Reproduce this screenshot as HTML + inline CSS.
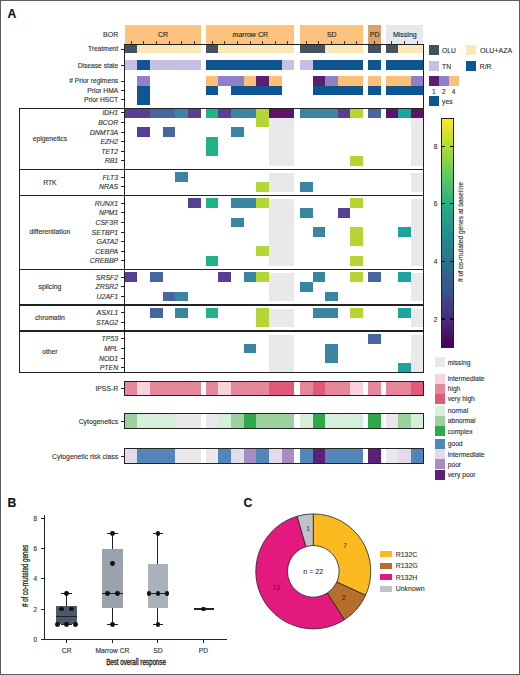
<!DOCTYPE html>
<html><head><meta charset="utf-8"><style>
html,body{margin:0;padding:0;background:#fff;}
#root{position:relative;width:520px;height:675px;overflow:hidden;background:#fff;font-family:"Liberation Sans", sans-serif;}
#root div{position:absolute;}
#root .t{white-space:nowrap;-webkit-text-stroke:0.12px currentColor;}
#frame{left:0;top:0;width:520px;height:675px;box-sizing:border-box;border:1px solid #5c5c5c;}
</style></head><body><div id="root">
<div class="t" style="top:8px;font-size:12.2px;line-height:12.2px;color:#111;font-weight:bold;left:7.6px;">A</div>
<div class="t" style="top:497px;font-size:12.2px;line-height:12.2px;color:#111;font-weight:bold;left:7.6px;">B</div>
<div class="t" style="top:497px;font-size:12.2px;line-height:12.2px;color:#111;font-weight:bold;left:243.4px;">C</div>
<div style="left:125.4px;top:24.8px;width:75.18px;height:19.1px;background:#fcc27e;"></div>
<div style="left:205.8px;top:24.8px;width:88.41px;height:19.1px;background:#fcc27e;"></div>
<div style="left:299.9px;top:24.8px;width:63.15px;height:19.1px;background:#fcc27e;"></div>
<div style="left:368px;top:24.8px;width:12.63px;height:19.1px;background:#d9a26c;"></div>
<div style="left:385.55px;top:24.8px;width:37.89px;height:19.1px;background:#e7e7ee;"></div>
<div style="left:130.62px;top:40.8px;width:1px;height:3.2px;background:#4a3518;"></div>
<div style="left:143.25px;top:40.8px;width:1px;height:3.2px;background:#4a3518;"></div>
<div style="left:155.88px;top:40.8px;width:1px;height:3.2px;background:#4a3518;"></div>
<div style="left:168.5px;top:40.8px;width:1px;height:3.2px;background:#4a3518;"></div>
<div style="left:181.13px;top:40.8px;width:1px;height:3.2px;background:#4a3518;"></div>
<div style="left:193.76px;top:40.8px;width:1px;height:3.2px;background:#4a3518;"></div>
<div style="left:211.62px;top:40.8px;width:1px;height:3.2px;background:#4a3518;"></div>
<div style="left:224.25px;top:40.8px;width:1px;height:3.2px;background:#4a3518;"></div>
<div style="left:236.88px;top:40.8px;width:1px;height:3.2px;background:#4a3518;"></div>
<div style="left:249.5px;top:40.8px;width:1px;height:3.2px;background:#4a3518;"></div>
<div style="left:262.13px;top:40.8px;width:1px;height:3.2px;background:#4a3518;"></div>
<div style="left:274.76px;top:40.8px;width:1px;height:3.2px;background:#4a3518;"></div>
<div style="left:287.39px;top:40.8px;width:1px;height:3.2px;background:#4a3518;"></div>
<div style="left:305.71px;top:40.8px;width:1px;height:3.2px;background:#4a3518;"></div>
<div style="left:318.34px;top:40.8px;width:1px;height:3.2px;background:#4a3518;"></div>
<div style="left:330.97px;top:40.8px;width:1px;height:3.2px;background:#4a3518;"></div>
<div style="left:343.6px;top:40.8px;width:1px;height:3.2px;background:#4a3518;"></div>
<div style="left:356.23px;top:40.8px;width:1px;height:3.2px;background:#4a3518;"></div>
<div style="left:373.81px;top:40.8px;width:1px;height:3.2px;background:#4a3518;"></div>
<div style="left:391.37px;top:40.8px;width:1px;height:3.2px;background:#4a3518;"></div>
<div style="left:404px;top:40.8px;width:1px;height:3.2px;background:#4a3518;"></div>
<div style="left:416.62px;top:40.8px;width:1px;height:3.2px;background:#4a3518;"></div>
<div class="t" style="top:31px;font-size:7px;line-height:7px;color:#2a2418;left:162.99px;width:0;display:flex;justify-content:center;"><span>CR</span></div>
<div class="t" style="top:31px;font-size:7px;line-height:7px;color:#2a2418;left:250.31px;width:0;display:flex;justify-content:center;"><span><i>marrow</i>&nbsp;CR</span></div>
<div class="t" style="top:31px;font-size:7px;line-height:7px;color:#2a2418;left:331.77px;width:0;display:flex;justify-content:center;"><span>SD</span></div>
<div class="t" style="top:31px;font-size:7px;line-height:7px;color:#2a2418;left:374.62px;width:0;display:flex;justify-content:center;"><span>PD</span></div>
<div class="t" style="top:31px;font-size:7px;line-height:7px;color:#2a2418;left:404.8px;width:0;display:flex;justify-content:center;"><span>Missing</span></div>
<div class="t" style="top:31px;font-size:7px;line-height:7px;color:#303030;right:401.8px;">BOR</div>
<div style="left:124.8px;top:44.6px;width:12.63px;height:8.8px;background:#44525e;"></div>
<div style="left:124.8px;top:60.3px;width:12.63px;height:9.4px;background:#c6c1e4;"></div>
<div style="left:137.43px;top:44.6px;width:12.63px;height:8.8px;background:#fbe8b8;"></div>
<div style="left:137.43px;top:60.3px;width:12.63px;height:9.4px;background:#0e5692;"></div>
<div style="left:137.43px;top:76.3px;width:12.63px;height:9.4px;background:#8f80c8;"></div>
<div style="left:137.43px;top:85.7px;width:12.63px;height:9.4px;background:#0e5692;"></div>
<div style="left:137.43px;top:95.1px;width:12.63px;height:9.7px;background:#0e5692;"></div>
<div style="left:150.06px;top:44.6px;width:12.63px;height:8.8px;background:#fbe8b8;"></div>
<div style="left:150.06px;top:60.3px;width:12.63px;height:9.4px;background:#c6c1e4;"></div>
<div style="left:162.69px;top:44.6px;width:12.63px;height:8.8px;background:#fbe8b8;"></div>
<div style="left:162.69px;top:60.3px;width:12.63px;height:9.4px;background:#c6c1e4;"></div>
<div style="left:175.32px;top:44.6px;width:12.63px;height:8.8px;background:#fbe8b8;"></div>
<div style="left:175.32px;top:60.3px;width:12.63px;height:9.4px;background:#c6c1e4;"></div>
<div style="left:187.95px;top:44.6px;width:12.63px;height:8.8px;background:#fbe8b8;"></div>
<div style="left:187.95px;top:60.3px;width:12.63px;height:9.4px;background:#c6c1e4;"></div>
<div style="left:205.8px;top:44.6px;width:12.63px;height:8.8px;background:#44525e;"></div>
<div style="left:205.8px;top:60.3px;width:12.63px;height:9.4px;background:#0e5692;"></div>
<div style="left:205.8px;top:76.3px;width:12.63px;height:9.4px;background:#fbbf76;"></div>
<div style="left:205.8px;top:85.7px;width:12.63px;height:9.4px;background:#0e5692;"></div>
<div style="left:218.43px;top:44.6px;width:12.63px;height:8.8px;background:#fbe8b8;"></div>
<div style="left:218.43px;top:60.3px;width:12.63px;height:9.4px;background:#0e5692;"></div>
<div style="left:218.43px;top:76.3px;width:12.63px;height:9.4px;background:#8f80c8;"></div>
<div style="left:231.06px;top:44.6px;width:12.63px;height:8.8px;background:#fbe8b8;"></div>
<div style="left:231.06px;top:60.3px;width:12.63px;height:9.4px;background:#0e5692;"></div>
<div style="left:231.06px;top:76.3px;width:12.63px;height:9.4px;background:#8f80c8;"></div>
<div style="left:231.06px;top:85.7px;width:12.63px;height:9.4px;background:#0e5692;"></div>
<div style="left:243.69px;top:44.6px;width:12.63px;height:8.8px;background:#fbe8b8;"></div>
<div style="left:243.69px;top:60.3px;width:12.63px;height:9.4px;background:#0e5692;"></div>
<div style="left:243.69px;top:76.3px;width:12.63px;height:9.4px;background:#fbbf76;"></div>
<div style="left:243.69px;top:85.7px;width:12.63px;height:9.4px;background:#0e5692;"></div>
<div style="left:256.32px;top:44.6px;width:12.63px;height:8.8px;background:#fbe8b8;"></div>
<div style="left:256.32px;top:60.3px;width:12.63px;height:9.4px;background:#0e5692;"></div>
<div style="left:256.32px;top:76.3px;width:12.63px;height:9.4px;background:#5a1f6e;"></div>
<div style="left:256.32px;top:85.7px;width:12.63px;height:9.4px;background:#0e5692;"></div>
<div style="left:268.95px;top:44.6px;width:12.63px;height:8.8px;background:#fbe8b8;"></div>
<div style="left:268.95px;top:60.3px;width:12.63px;height:9.4px;background:#0e5692;"></div>
<div style="left:268.95px;top:76.3px;width:12.63px;height:9.4px;background:#fbbf76;"></div>
<div style="left:268.95px;top:85.7px;width:12.63px;height:9.4px;background:#0e5692;"></div>
<div style="left:281.58px;top:44.6px;width:12.63px;height:8.8px;background:#fbe8b8;"></div>
<div style="left:281.58px;top:60.3px;width:12.63px;height:9.4px;background:#c6c1e4;"></div>
<div style="left:299.9px;top:44.6px;width:12.63px;height:8.8px;background:#44525e;"></div>
<div style="left:299.9px;top:60.3px;width:12.63px;height:9.4px;background:#c6c1e4;"></div>
<div style="left:312.53px;top:44.6px;width:12.63px;height:8.8px;background:#44525e;"></div>
<div style="left:312.53px;top:60.3px;width:12.63px;height:9.4px;background:#0e5692;"></div>
<div style="left:312.53px;top:76.3px;width:12.63px;height:9.4px;background:#5a1f6e;"></div>
<div style="left:312.53px;top:85.7px;width:12.63px;height:9.4px;background:#0e5692;"></div>
<div style="left:325.16px;top:44.6px;width:12.63px;height:8.8px;background:#fbe8b8;"></div>
<div style="left:325.16px;top:60.3px;width:12.63px;height:9.4px;background:#0e5692;"></div>
<div style="left:325.16px;top:76.3px;width:12.63px;height:9.4px;background:#8f80c8;"></div>
<div style="left:325.16px;top:85.7px;width:12.63px;height:9.4px;background:#0e5692;"></div>
<div style="left:337.79px;top:44.6px;width:12.63px;height:8.8px;background:#fbe8b8;"></div>
<div style="left:337.79px;top:60.3px;width:12.63px;height:9.4px;background:#0e5692;"></div>
<div style="left:337.79px;top:76.3px;width:12.63px;height:9.4px;background:#fbbf76;"></div>
<div style="left:337.79px;top:85.7px;width:12.63px;height:9.4px;background:#0e5692;"></div>
<div style="left:350.42px;top:44.6px;width:12.63px;height:8.8px;background:#fbe8b8;"></div>
<div style="left:350.42px;top:60.3px;width:12.63px;height:9.4px;background:#0e5692;"></div>
<div style="left:350.42px;top:76.3px;width:12.63px;height:9.4px;background:#fbbf76;"></div>
<div style="left:350.42px;top:85.7px;width:12.63px;height:9.4px;background:#0e5692;"></div>
<div style="left:368px;top:44.6px;width:12.63px;height:8.8px;background:#44525e;"></div>
<div style="left:368px;top:60.3px;width:12.63px;height:9.4px;background:#0e5692;"></div>
<div style="left:368px;top:76.3px;width:12.63px;height:9.4px;background:#fbbf76;"></div>
<div style="left:368px;top:85.7px;width:12.63px;height:9.4px;background:#0e5692;"></div>
<div style="left:385.55px;top:44.6px;width:12.63px;height:8.8px;background:#44525e;"></div>
<div style="left:385.55px;top:60.3px;width:12.63px;height:9.4px;background:#0e5692;"></div>
<div style="left:385.55px;top:76.3px;width:12.63px;height:9.4px;background:#fbbf76;"></div>
<div style="left:385.55px;top:85.7px;width:12.63px;height:9.4px;background:#0e5692;"></div>
<div style="left:398.18px;top:44.6px;width:12.63px;height:8.8px;background:#fbe8b8;"></div>
<div style="left:398.18px;top:60.3px;width:12.63px;height:9.4px;background:#0e5692;"></div>
<div style="left:398.18px;top:76.3px;width:12.63px;height:9.4px;background:#fbbf76;"></div>
<div style="left:398.18px;top:85.7px;width:12.63px;height:9.4px;background:#0e5692;"></div>
<div style="left:410.81px;top:44.6px;width:12.63px;height:8.8px;background:#fbe8b8;"></div>
<div style="left:410.81px;top:60.3px;width:12.63px;height:9.4px;background:#0e5692;"></div>
<div style="left:410.81px;top:76.3px;width:12.63px;height:9.4px;background:#8f80c8;"></div>
<div style="left:410.81px;top:85.7px;width:12.63px;height:9.4px;background:#0e5692;"></div>
<div class="t" style="top:46px;font-size:6.7px;line-height:6.7px;color:#303030;right:401.8px;">Treatment</div>
<div style="left:120.8px;top:48.5px;width:3.7px;height:1px;background:#222;"></div>
<div class="t" style="top:63px;font-size:6.7px;line-height:6.7px;color:#303030;right:401.8px;">Disease state</div>
<div style="left:120.8px;top:64.5px;width:3.7px;height:1px;background:#222;"></div>
<div class="t" style="top:78px;font-size:6.7px;line-height:6.7px;color:#303030;right:401.8px;"># Prior regimens</div>
<div style="left:120.8px;top:80.5px;width:3.7px;height:1px;background:#222;"></div>
<div class="t" style="top:88px;font-size:6.7px;line-height:6.7px;color:#303030;right:401.8px;">Prior HMA</div>
<div style="left:120.8px;top:89.9px;width:3.7px;height:1px;background:#222;"></div>
<div class="t" style="top:97px;font-size:6.7px;line-height:6.7px;color:#303030;right:401.8px;">Prior HSCT</div>
<div style="left:120.8px;top:99.3px;width:3.7px;height:1px;background:#222;"></div>
<div style="left:268.95px;top:118.1px;width:12.63px;height:47.5px;background:#e9e9eb;"></div>
<div style="left:268.95px;top:172.92px;width:12.63px;height:18.7px;background:#e9e9eb;"></div>
<div style="left:268.95px;top:198.94px;width:12.63px;height:66.7px;background:#e9e9eb;"></div>
<div style="left:268.95px;top:272.96px;width:12.63px;height:28.3px;background:#e9e9eb;"></div>
<div style="left:268.95px;top:308.58px;width:12.63px;height:18.7px;background:#e9e9eb;"></div>
<div style="left:268.95px;top:334.6px;width:12.63px;height:37.9px;background:#e9e9eb;"></div>
<div style="left:281.58px;top:118.1px;width:12.63px;height:47.5px;background:#e9e9eb;"></div>
<div style="left:281.58px;top:172.92px;width:12.63px;height:18.7px;background:#e9e9eb;"></div>
<div style="left:281.58px;top:198.94px;width:12.63px;height:66.7px;background:#e9e9eb;"></div>
<div style="left:281.58px;top:272.96px;width:12.63px;height:28.3px;background:#e9e9eb;"></div>
<div style="left:281.58px;top:308.58px;width:12.63px;height:18.7px;background:#e9e9eb;"></div>
<div style="left:281.58px;top:334.6px;width:12.63px;height:37.9px;background:#e9e9eb;"></div>
<div style="left:410.81px;top:118.1px;width:12.63px;height:47.5px;background:#e9e9eb;"></div>
<div style="left:410.81px;top:172.92px;width:12.63px;height:18.7px;background:#e9e9eb;"></div>
<div style="left:410.81px;top:198.94px;width:12.63px;height:66.7px;background:#e9e9eb;"></div>
<div style="left:410.81px;top:272.96px;width:12.63px;height:28.3px;background:#e9e9eb;"></div>
<div style="left:410.81px;top:308.58px;width:12.63px;height:18.7px;background:#e9e9eb;"></div>
<div style="left:410.81px;top:334.6px;width:12.63px;height:37.9px;background:#e9e9eb;"></div>
<div style="left:124.8px;top:108px;width:12.63px;height:9.6px;background:#573f93;"></div>
<div style="left:137.43px;top:108px;width:12.63px;height:9.6px;background:#573f93;"></div>
<div style="left:150.06px;top:108px;width:12.63px;height:9.6px;background:#4766a0;"></div>
<div style="left:162.69px;top:108px;width:12.63px;height:9.6px;background:#4766a0;"></div>
<div style="left:175.32px;top:108px;width:12.63px;height:9.6px;background:#3a86a0;"></div>
<div style="left:187.95px;top:108px;width:12.63px;height:9.6px;background:#573f93;"></div>
<div style="left:205.8px;top:108px;width:12.63px;height:9.6px;background:#22b288;"></div>
<div style="left:218.43px;top:108px;width:12.63px;height:9.6px;background:#573f93;"></div>
<div style="left:231.06px;top:108px;width:12.63px;height:9.6px;background:#3a86a0;"></div>
<div style="left:243.69px;top:108px;width:12.63px;height:9.6px;background:#3a86a0;"></div>
<div style="left:256.32px;top:108px;width:12.63px;height:9.6px;background:#b5d536;"></div>
<div style="left:268.95px;top:108px;width:12.63px;height:9.6px;background:#5c1566;"></div>
<div style="left:281.58px;top:108px;width:12.63px;height:9.6px;background:#5c1566;"></div>
<div style="left:299.9px;top:108px;width:12.63px;height:9.6px;background:#3a86a0;"></div>
<div style="left:312.53px;top:108px;width:12.63px;height:9.6px;background:#3a86a0;"></div>
<div style="left:325.16px;top:108px;width:12.63px;height:9.6px;background:#3a86a0;"></div>
<div style="left:337.79px;top:108px;width:12.63px;height:9.6px;background:#573f93;"></div>
<div style="left:350.42px;top:108px;width:12.63px;height:9.6px;background:#b5d536;"></div>
<div style="left:368px;top:108px;width:12.63px;height:9.6px;background:#4766a0;"></div>
<div style="left:385.55px;top:108px;width:12.63px;height:9.6px;background:#5c1566;"></div>
<div style="left:398.18px;top:108px;width:12.63px;height:9.6px;background:#1ca59c;"></div>
<div style="left:410.81px;top:108px;width:12.63px;height:9.6px;background:#5c1566;"></div>
<div style="left:256.32px;top:117.6px;width:12.63px;height:9.6px;background:#b5d536;"></div>
<div style="left:137.43px;top:127.2px;width:12.63px;height:9.6px;background:#573f93;"></div>
<div style="left:162.69px;top:127.2px;width:12.63px;height:9.6px;background:#4766a0;"></div>
<div style="left:231.06px;top:127.2px;width:12.63px;height:9.6px;background:#3a86a0;"></div>
<div style="left:205.8px;top:136.8px;width:12.63px;height:9.6px;background:#22b288;"></div>
<div style="left:205.8px;top:146.4px;width:12.63px;height:9.6px;background:#22b288;"></div>
<div style="left:350.42px;top:156px;width:12.63px;height:9.6px;background:#b5d536;"></div>
<div style="left:175.32px;top:172.42px;width:12.63px;height:9.6px;background:#3a86a0;"></div>
<div style="left:256.32px;top:182.02px;width:12.63px;height:9.6px;background:#b5d536;"></div>
<div style="left:299.9px;top:182.02px;width:12.63px;height:9.6px;background:#3a86a0;"></div>
<div style="left:187.95px;top:198.44px;width:12.63px;height:9.6px;background:#573f93;"></div>
<div style="left:205.8px;top:198.44px;width:12.63px;height:9.6px;background:#22b288;"></div>
<div style="left:231.06px;top:198.44px;width:12.63px;height:9.6px;background:#3a86a0;"></div>
<div style="left:243.69px;top:198.44px;width:12.63px;height:9.6px;background:#3a86a0;"></div>
<div style="left:256.32px;top:198.44px;width:12.63px;height:9.6px;background:#b5d536;"></div>
<div style="left:350.42px;top:198.44px;width:12.63px;height:9.6px;background:#b5d536;"></div>
<div style="left:299.9px;top:208.04px;width:12.63px;height:9.6px;background:#3a86a0;"></div>
<div style="left:337.79px;top:208.04px;width:12.63px;height:9.6px;background:#573f93;"></div>
<div style="left:231.06px;top:217.64px;width:12.63px;height:9.6px;background:#3a86a0;"></div>
<div style="left:312.53px;top:227.24px;width:12.63px;height:9.6px;background:#3a86a0;"></div>
<div style="left:350.42px;top:227.24px;width:12.63px;height:9.6px;background:#b5d536;"></div>
<div style="left:398.18px;top:227.24px;width:12.63px;height:9.6px;background:#1ca59c;"></div>
<div style="left:350.42px;top:236.84px;width:12.63px;height:9.6px;background:#b5d536;"></div>
<div style="left:256.32px;top:246.44px;width:12.63px;height:9.6px;background:#b5d536;"></div>
<div style="left:205.8px;top:256.04px;width:12.63px;height:9.6px;background:#22b288;"></div>
<div style="left:350.42px;top:256.04px;width:12.63px;height:9.6px;background:#b5d536;"></div>
<div style="left:124.8px;top:272.46px;width:12.63px;height:9.6px;background:#573f93;"></div>
<div style="left:150.06px;top:272.46px;width:12.63px;height:9.6px;background:#4766a0;"></div>
<div style="left:218.43px;top:272.46px;width:12.63px;height:9.6px;background:#573f93;"></div>
<div style="left:243.69px;top:272.46px;width:12.63px;height:9.6px;background:#3a86a0;"></div>
<div style="left:256.32px;top:272.46px;width:12.63px;height:9.6px;background:#b5d536;"></div>
<div style="left:312.53px;top:272.46px;width:12.63px;height:9.6px;background:#3a86a0;"></div>
<div style="left:350.42px;top:272.46px;width:12.63px;height:9.6px;background:#b5d536;"></div>
<div style="left:368px;top:272.46px;width:12.63px;height:9.6px;background:#4766a0;"></div>
<div style="left:398.18px;top:272.46px;width:12.63px;height:9.6px;background:#1ca59c;"></div>
<div style="left:299.9px;top:282.06px;width:12.63px;height:9.6px;background:#3a86a0;"></div>
<div style="left:162.69px;top:291.66px;width:12.63px;height:9.6px;background:#4766a0;"></div>
<div style="left:175.32px;top:291.66px;width:12.63px;height:9.6px;background:#3a86a0;"></div>
<div style="left:325.16px;top:291.66px;width:12.63px;height:9.6px;background:#3a86a0;"></div>
<div style="left:150.06px;top:308.08px;width:12.63px;height:9.6px;background:#4766a0;"></div>
<div style="left:175.32px;top:308.08px;width:12.63px;height:9.6px;background:#3a86a0;"></div>
<div style="left:205.8px;top:308.08px;width:12.63px;height:9.6px;background:#22b288;"></div>
<div style="left:256.32px;top:308.08px;width:12.63px;height:9.6px;background:#b5d536;"></div>
<div style="left:312.53px;top:308.08px;width:12.63px;height:9.6px;background:#3a86a0;"></div>
<div style="left:325.16px;top:308.08px;width:12.63px;height:9.6px;background:#3a86a0;"></div>
<div style="left:350.42px;top:308.08px;width:12.63px;height:9.6px;background:#b5d536;"></div>
<div style="left:398.18px;top:308.08px;width:12.63px;height:9.6px;background:#1ca59c;"></div>
<div style="left:256.32px;top:317.68px;width:12.63px;height:9.6px;background:#b5d536;"></div>
<div style="left:368px;top:334.1px;width:12.63px;height:9.6px;background:#4766a0;"></div>
<div style="left:243.69px;top:343.7px;width:12.63px;height:9.6px;background:#3a86a0;"></div>
<div style="left:325.16px;top:343.7px;width:12.63px;height:9.6px;background:#3a86a0;"></div>
<div style="left:325.16px;top:353.3px;width:12.63px;height:9.6px;background:#3a86a0;"></div>
<div style="left:398.18px;top:362.9px;width:12.63px;height:9.6px;background:#1ca59c;"></div>
<div class="t" style="top:110px;font-size:6.95px;line-height:6.95px;color:#303030;font-style:italic;right:401.8px;">IDH1</div>
<div style="left:120.8px;top:112.3px;width:3.7px;height:1px;background:#222;"></div>
<div class="t" style="top:120px;font-size:6.95px;line-height:6.95px;color:#303030;font-style:italic;right:401.8px;">BCOR</div>
<div style="left:120.8px;top:121.9px;width:3.7px;height:1px;background:#222;"></div>
<div class="t" style="top:130px;font-size:6.95px;line-height:6.95px;color:#303030;font-style:italic;right:401.8px;">DNMT3A</div>
<div style="left:120.8px;top:131.5px;width:3.7px;height:1px;background:#222;"></div>
<div class="t" style="top:139px;font-size:6.95px;line-height:6.95px;color:#303030;font-style:italic;right:401.8px;">EZH2</div>
<div style="left:120.8px;top:141.1px;width:3.7px;height:1px;background:#222;"></div>
<div class="t" style="top:149px;font-size:6.95px;line-height:6.95px;color:#303030;font-style:italic;right:401.8px;">TET2</div>
<div style="left:120.8px;top:150.7px;width:3.7px;height:1px;background:#222;"></div>
<div class="t" style="top:158px;font-size:6.95px;line-height:6.95px;color:#303030;font-style:italic;right:401.8px;">RB1</div>
<div style="left:120.8px;top:160.3px;width:3.7px;height:1px;background:#222;"></div>
<div class="t" style="top:175px;font-size:6.95px;line-height:6.95px;color:#303030;font-style:italic;right:401.8px;">FLT3</div>
<div style="left:120.8px;top:176.72px;width:3.7px;height:1px;background:#222;"></div>
<div class="t" style="top:184px;font-size:6.95px;line-height:6.95px;color:#303030;font-style:italic;right:401.8px;">NRAS</div>
<div style="left:120.8px;top:186.32px;width:3.7px;height:1px;background:#222;"></div>
<div class="t" style="top:201px;font-size:6.95px;line-height:6.95px;color:#303030;font-style:italic;right:401.8px;">RUNX1</div>
<div style="left:120.8px;top:202.74px;width:3.7px;height:1px;background:#222;"></div>
<div class="t" style="top:210px;font-size:6.95px;line-height:6.95px;color:#303030;font-style:italic;right:401.8px;">NPM1</div>
<div style="left:120.8px;top:212.34px;width:3.7px;height:1px;background:#222;"></div>
<div class="t" style="top:220px;font-size:6.95px;line-height:6.95px;color:#303030;font-style:italic;right:401.8px;">CSF3R</div>
<div style="left:120.8px;top:221.94px;width:3.7px;height:1px;background:#222;"></div>
<div class="t" style="top:230px;font-size:6.95px;line-height:6.95px;color:#303030;font-style:italic;right:401.8px;">SETBP1</div>
<div style="left:120.8px;top:231.54px;width:3.7px;height:1px;background:#222;"></div>
<div class="t" style="top:239px;font-size:6.95px;line-height:6.95px;color:#303030;font-style:italic;right:401.8px;">GATA2</div>
<div style="left:120.8px;top:241.14px;width:3.7px;height:1px;background:#222;"></div>
<div class="t" style="top:249px;font-size:6.95px;line-height:6.95px;color:#303030;font-style:italic;right:401.8px;">CEBPA</div>
<div style="left:120.8px;top:250.74px;width:3.7px;height:1px;background:#222;"></div>
<div class="t" style="top:258px;font-size:6.95px;line-height:6.95px;color:#303030;font-style:italic;right:401.8px;">CREBBP</div>
<div style="left:120.8px;top:260.34px;width:3.7px;height:1px;background:#222;"></div>
<div class="t" style="top:275px;font-size:6.95px;line-height:6.95px;color:#303030;font-style:italic;right:401.8px;">SRSF2</div>
<div style="left:120.8px;top:276.76px;width:3.7px;height:1px;background:#222;"></div>
<div class="t" style="top:284px;font-size:6.95px;line-height:6.95px;color:#303030;font-style:italic;right:401.8px;">ZRSR2</div>
<div style="left:120.8px;top:286.36px;width:3.7px;height:1px;background:#222;"></div>
<div class="t" style="top:294px;font-size:6.95px;line-height:6.95px;color:#303030;font-style:italic;right:401.8px;">U2AF1</div>
<div style="left:120.8px;top:295.96px;width:3.7px;height:1px;background:#222;"></div>
<div class="t" style="top:310px;font-size:6.95px;line-height:6.95px;color:#303030;font-style:italic;right:401.8px;">ASXL1</div>
<div style="left:120.8px;top:312.38px;width:3.7px;height:1px;background:#222;"></div>
<div class="t" style="top:320px;font-size:6.95px;line-height:6.95px;color:#303030;font-style:italic;right:401.8px;">STAG2</div>
<div style="left:120.8px;top:321.98px;width:3.7px;height:1px;background:#222;"></div>
<div class="t" style="top:336px;font-size:6.95px;line-height:6.95px;color:#303030;font-style:italic;right:401.8px;">TP53</div>
<div style="left:120.8px;top:338.4px;width:3.7px;height:1px;background:#222;"></div>
<div class="t" style="top:346px;font-size:6.95px;line-height:6.95px;color:#303030;font-style:italic;right:401.8px;">MPL</div>
<div style="left:120.8px;top:348px;width:3.7px;height:1px;background:#222;"></div>
<div class="t" style="top:356px;font-size:6.95px;line-height:6.95px;color:#303030;font-style:italic;right:401.8px;">NOD1</div>
<div style="left:120.8px;top:357.6px;width:3.7px;height:1px;background:#222;"></div>
<div class="t" style="top:365px;font-size:6.95px;line-height:6.95px;color:#303030;font-style:italic;right:401.8px;">PTEN</div>
<div style="left:120.8px;top:367.2px;width:3.7px;height:1px;background:#222;"></div>
<div class="t" style="top:136px;font-size:6.8px;line-height:6.8px;color:#303030;left:49.9px;width:0;display:flex;justify-content:center;">epigenetics</div>
<div class="t" style="top:180px;font-size:6.8px;line-height:6.8px;color:#303030;left:49.9px;width:0;display:flex;justify-content:center;">RTK</div>
<div class="t" style="top:229px;font-size:6.8px;line-height:6.8px;color:#303030;left:49.9px;width:0;display:flex;justify-content:center;">differentiation</div>
<div class="t" style="top:284px;font-size:6.8px;line-height:6.8px;color:#303030;left:49.9px;width:0;display:flex;justify-content:center;">splicing</div>
<div class="t" style="top:315px;font-size:6.8px;line-height:6.8px;color:#303030;left:49.9px;width:0;display:flex;justify-content:center;">chromatin</div>
<div class="t" style="top:349px;font-size:6.8px;line-height:6.8px;color:#303030;left:49.9px;width:0;display:flex;justify-content:center;">other</div>
<div style="left:124.2px;top:43.8px;width:299.84px;height:1.2px;background:#222;"></div>
<div style="left:124.2px;top:43.8px;width:1.2px;height:65.2px;background:#222;"></div>
<div style="left:423.04px;top:43.8px;width:1.2px;height:65.2px;background:#222;"></div>
<div style="left:19.1px;top:107.8px;width:405.14px;height:1.2px;background:#222;"></div>
<div style="left:19.1px;top:107.8px;width:1.2px;height:265.1px;background:#222;"></div>
<div style="left:124.2px;top:107.8px;width:1.2px;height:265.1px;background:#222;"></div>
<div style="left:423.04px;top:107.8px;width:1.2px;height:265.1px;background:#222;"></div>
<div style="left:19.1px;top:168.76px;width:405.14px;height:1.2px;background:#222;"></div>
<div style="left:19.1px;top:194.78px;width:405.14px;height:1.2px;background:#222;"></div>
<div style="left:19.1px;top:268.8px;width:405.14px;height:1.2px;background:#222;"></div>
<div style="left:19.1px;top:304.42px;width:405.14px;height:1.2px;background:#222;"></div>
<div style="left:19.1px;top:330.44px;width:405.14px;height:1.2px;background:#222;"></div>
<div style="left:19.1px;top:371.7px;width:405.14px;height:1.2px;background:#222;"></div>
<div style="left:124.8px;top:381.3px;width:12.63px;height:15.2px;background:#e4889a;"></div>
<div style="left:137.43px;top:381.3px;width:12.63px;height:15.2px;background:#f8d3da;"></div>
<div style="left:150.06px;top:381.3px;width:12.63px;height:15.2px;background:#e4889a;"></div>
<div style="left:162.69px;top:381.3px;width:12.63px;height:15.2px;background:#e4889a;"></div>
<div style="left:175.32px;top:381.3px;width:12.63px;height:15.2px;background:#e4889a;"></div>
<div style="left:187.95px;top:381.3px;width:12.63px;height:15.2px;background:#e4889a;"></div>
<div style="left:205.8px;top:381.3px;width:12.63px;height:15.2px;background:#e4889a;"></div>
<div style="left:218.43px;top:381.3px;width:12.63px;height:15.2px;background:#f8d3da;"></div>
<div style="left:231.06px;top:381.3px;width:12.63px;height:15.2px;background:#e4889a;"></div>
<div style="left:243.69px;top:381.3px;width:12.63px;height:15.2px;background:#e4889a;"></div>
<div style="left:256.32px;top:381.3px;width:12.63px;height:15.2px;background:#e4889a;"></div>
<div style="left:268.95px;top:381.3px;width:12.63px;height:15.2px;background:#e0587a;"></div>
<div style="left:281.58px;top:381.3px;width:12.63px;height:15.2px;background:#e0587a;"></div>
<div style="left:299.9px;top:381.3px;width:12.63px;height:15.2px;background:#e4889a;"></div>
<div style="left:312.53px;top:381.3px;width:12.63px;height:15.2px;background:#e0587a;"></div>
<div style="left:325.16px;top:381.3px;width:12.63px;height:15.2px;background:#e4889a;"></div>
<div style="left:337.79px;top:381.3px;width:12.63px;height:15.2px;background:#e4889a;"></div>
<div style="left:350.42px;top:381.3px;width:12.63px;height:15.2px;background:#f8d3da;"></div>
<div style="left:368px;top:381.3px;width:12.63px;height:15.2px;background:#e4889a;"></div>
<div style="left:385.55px;top:381.3px;width:12.63px;height:15.2px;background:#e4889a;"></div>
<div style="left:398.18px;top:381.3px;width:12.63px;height:15.2px;background:#e4889a;"></div>
<div style="left:410.81px;top:381.3px;width:12.63px;height:15.2px;background:#e0587a;"></div>
<div style="left:124.2px;top:381.3px;width:300.04px;height:15.2px;border:1.2px solid #222;box-sizing:border-box"></div>
<div class="t" style="top:386px;font-size:6.85px;line-height:6.85px;color:#303030;right:401.8px;">IPSS-R</div>
<div style="left:120.8px;top:388.4px;width:3.7px;height:1px;background:#222;"></div>
<div style="left:124.8px;top:413.4px;width:12.63px;height:15.8px;background:#9dd09f;"></div>
<div style="left:137.43px;top:413.4px;width:12.63px;height:15.8px;background:#d6efda;"></div>
<div style="left:150.06px;top:413.4px;width:12.63px;height:15.8px;background:#d6efda;"></div>
<div style="left:162.69px;top:413.4px;width:12.63px;height:15.8px;background:#d6efda;"></div>
<div style="left:175.32px;top:413.4px;width:12.63px;height:15.8px;background:#e9e9eb;"></div>
<div style="left:187.95px;top:413.4px;width:12.63px;height:15.8px;background:#e9e9eb;"></div>
<div style="left:205.8px;top:413.4px;width:12.63px;height:15.8px;background:#e9e9eb;"></div>
<div style="left:218.43px;top:413.4px;width:12.63px;height:15.8px;background:#d6efda;"></div>
<div style="left:231.06px;top:413.4px;width:12.63px;height:15.8px;background:#9dd09f;"></div>
<div style="left:243.69px;top:413.4px;width:12.63px;height:15.8px;background:#2fa84a;"></div>
<div style="left:256.32px;top:413.4px;width:12.63px;height:15.8px;background:#9dd09f;"></div>
<div style="left:268.95px;top:413.4px;width:12.63px;height:15.8px;background:#9dd09f;"></div>
<div style="left:281.58px;top:413.4px;width:12.63px;height:15.8px;background:#9dd09f;"></div>
<div style="left:299.9px;top:413.4px;width:12.63px;height:15.8px;background:#d6efda;"></div>
<div style="left:312.53px;top:413.4px;width:12.63px;height:15.8px;background:#2fa84a;"></div>
<div style="left:325.16px;top:413.4px;width:12.63px;height:15.8px;background:#d6efda;"></div>
<div style="left:337.79px;top:413.4px;width:12.63px;height:15.8px;background:#d6efda;"></div>
<div style="left:350.42px;top:413.4px;width:12.63px;height:15.8px;background:#d6efda;"></div>
<div style="left:368px;top:413.4px;width:12.63px;height:15.8px;background:#2fa84a;"></div>
<div style="left:385.55px;top:413.4px;width:12.63px;height:15.8px;background:#e9e9eb;"></div>
<div style="left:398.18px;top:413.4px;width:12.63px;height:15.8px;background:#9dd09f;"></div>
<div style="left:410.81px;top:413.4px;width:12.63px;height:15.8px;background:#d6efda;"></div>
<div style="left:124.2px;top:413.4px;width:300.04px;height:15.8px;border:1.2px solid #222;box-sizing:border-box"></div>
<div class="t" style="top:419px;font-size:6.85px;line-height:6.85px;color:#303030;right:401.8px;">Cytogenetics</div>
<div style="left:120.8px;top:420.8px;width:3.7px;height:1px;background:#222;"></div>
<div style="left:124.8px;top:448.3px;width:12.63px;height:15.7px;background:#e3dbeb;"></div>
<div style="left:137.43px;top:448.3px;width:12.63px;height:15.7px;background:#5285b8;"></div>
<div style="left:150.06px;top:448.3px;width:12.63px;height:15.7px;background:#5285b8;"></div>
<div style="left:162.69px;top:448.3px;width:12.63px;height:15.7px;background:#5285b8;"></div>
<div style="left:175.32px;top:448.3px;width:12.63px;height:15.7px;background:#e9e9eb;"></div>
<div style="left:187.95px;top:448.3px;width:12.63px;height:15.7px;background:#e9e9eb;"></div>
<div style="left:205.8px;top:448.3px;width:12.63px;height:15.7px;background:#e9e9eb;"></div>
<div style="left:218.43px;top:448.3px;width:12.63px;height:15.7px;background:#5285b8;"></div>
<div style="left:231.06px;top:448.3px;width:12.63px;height:15.7px;background:#e3dbeb;"></div>
<div style="left:243.69px;top:448.3px;width:12.63px;height:15.7px;background:#a98cc2;"></div>
<div style="left:256.32px;top:448.3px;width:12.63px;height:15.7px;background:#5285b8;"></div>
<div style="left:268.95px;top:448.3px;width:12.63px;height:15.7px;background:#e3dbeb;"></div>
<div style="left:281.58px;top:448.3px;width:12.63px;height:15.7px;background:#a98cc2;"></div>
<div style="left:299.9px;top:448.3px;width:12.63px;height:15.7px;background:#5285b8;"></div>
<div style="left:312.53px;top:448.3px;width:12.63px;height:15.7px;background:#5b1f78;"></div>
<div style="left:325.16px;top:448.3px;width:12.63px;height:15.7px;background:#5285b8;"></div>
<div style="left:337.79px;top:448.3px;width:12.63px;height:15.7px;background:#5285b8;"></div>
<div style="left:350.42px;top:448.3px;width:12.63px;height:15.7px;background:#5285b8;"></div>
<div style="left:368px;top:448.3px;width:12.63px;height:15.7px;background:#5b1f78;"></div>
<div style="left:385.55px;top:448.3px;width:12.63px;height:15.7px;background:#e9e9eb;"></div>
<div style="left:398.18px;top:448.3px;width:12.63px;height:15.7px;background:#e3dbeb;"></div>
<div style="left:410.81px;top:448.3px;width:12.63px;height:15.7px;background:#5285b8;"></div>
<div style="left:124.2px;top:448.3px;width:300.04px;height:15.7px;border:1.2px solid #222;box-sizing:border-box"></div>
<div class="t" style="top:454px;font-size:6.85px;line-height:6.85px;color:#303030;right:401.8px;">Cytogenetic risk class</div>
<div style="left:120.8px;top:455.65px;width:3.7px;height:1px;background:#222;"></div>
<div style="left:428.9px;top:45.2px;width:10.1px;height:9.5px;background:#44525e;"></div>
<div class="t" style="top:48px;font-size:6.7px;line-height:6.7px;color:#303030;left:442.1px;">OLU</div>
<div style="left:466.4px;top:45.2px;width:10.1px;height:9.5px;background:#fbe8b8;"></div>
<div class="t" style="top:47px;font-size:7px;line-height:7px;color:#303030;left:480px;">OLU+AZA</div>
<div style="left:428.9px;top:61.3px;width:10.1px;height:9.5px;background:#c6c1e4;"></div>
<div class="t" style="top:64px;font-size:6.7px;line-height:6.7px;color:#303030;left:442.1px;">TN</div>
<div style="left:466.4px;top:61.3px;width:10.1px;height:9.5px;background:#0e5692;"></div>
<div class="t" style="top:64px;font-size:6.7px;line-height:6.7px;color:#303030;left:479.8px;">R/R</div>
<div style="left:428.9px;top:76.3px;width:9.9px;height:9.4px;background:#5a1f6e;"></div>
<div style="left:438.8px;top:76.3px;width:9.9px;height:9.4px;background:#8f80c8;"></div>
<div style="left:448.7px;top:76.3px;width:9.9px;height:9.4px;background:#fbbf76;"></div>
<div class="t" style="top:89px;font-size:6.5px;line-height:6.5px;color:#303030;left:433.9px;width:0;display:flex;justify-content:center;">1</div>
<div class="t" style="top:89px;font-size:6.5px;line-height:6.5px;color:#303030;left:443.8px;width:0;display:flex;justify-content:center;">2</div>
<div class="t" style="top:89px;font-size:6.5px;line-height:6.5px;color:#303030;left:453.6px;width:0;display:flex;justify-content:center;">4</div>
<div style="left:428.9px;top:96.4px;width:10.1px;height:9.4px;background:#0e5692;"></div>
<div class="t" style="top:99px;font-size:6.7px;line-height:6.7px;color:#303030;left:442.1px;">yes</div>
<div style="left:440.7px;top:117.6px;width:13.2px;height:230.2px;box-sizing:border-box;border:0.8px solid #222;background:linear-gradient(to bottom,#fde725 0%,#addc30 12.5%,#5ec962 25%,#28ae80 37.5%,#21918c 50%,#2c728e 62.5%,#3b528b 75%,#472d7b 87.5%,#440154 100%)"></div>
<div style="left:440.7px;top:318.48px;width:3.9px;height:1.1px;background:#111;"></div>
<div style="left:449.9px;top:318.48px;width:4px;height:1.1px;background:#111;"></div>
<div class="t" style="top:317px;font-size:6.5px;line-height:6.5px;color:#303030;left:435.6px;width:0;display:flex;justify-content:center;">2</div>
<div style="left:440.7px;top:260.93px;width:3.9px;height:1.1px;background:#111;"></div>
<div style="left:449.9px;top:260.93px;width:4px;height:1.1px;background:#111;"></div>
<div class="t" style="top:259px;font-size:6.5px;line-height:6.5px;color:#303030;left:435.6px;width:0;display:flex;justify-content:center;">4</div>
<div style="left:440.7px;top:203.38px;width:3.9px;height:1.1px;background:#111;"></div>
<div style="left:449.9px;top:203.38px;width:4px;height:1.1px;background:#111;"></div>
<div class="t" style="top:201px;font-size:6.5px;line-height:6.5px;color:#303030;left:435.6px;width:0;display:flex;justify-content:center;">6</div>
<div style="left:440.7px;top:145.83px;width:3.9px;height:1.1px;background:#111;"></div>
<div style="left:449.9px;top:145.83px;width:4px;height:1.1px;background:#111;"></div>
<div class="t" style="top:144px;font-size:6.5px;line-height:6.5px;color:#303030;left:435.6px;width:0;display:flex;justify-content:center;">8</div>
<div class="t" style="left:461.2px;top:231.9px;width:0;height:0;"><div style="position:absolute;left:0;top:0;transform:translate(-50%,-50%) rotate(-90deg);white-space:nowrap;font-size:6.65px;line-height:6.65px;color:#303030"># of co-mutated genes at baseline</div></div>
<div style="left:434.5px;top:357.2px;width:10.2px;height:9.8px;background:#e9e9eb;"></div>
<div class="t" style="top:360px;font-size:6.7px;line-height:6.7px;color:#303030;left:447.7px;">missing</div>
<div style="left:434.5px;top:373.6px;width:10.2px;height:10.1px;background:#f8d3da;"></div>
<div class="t" style="top:376px;font-size:6.7px;line-height:6.7px;color:#303030;left:447.7px;">intermediate</div>
<div style="left:434.5px;top:383.7px;width:10.2px;height:10.1px;background:#e4889a;"></div>
<div class="t" style="top:386px;font-size:6.7px;line-height:6.7px;color:#303030;left:447.7px;">high</div>
<div style="left:434.5px;top:393.8px;width:10.2px;height:10.1px;background:#e0587a;"></div>
<div class="t" style="top:396px;font-size:6.7px;line-height:6.7px;color:#303030;left:447.7px;">very high</div>
<div style="left:434.5px;top:405.6px;width:10.2px;height:10.1px;background:#d6efda;"></div>
<div class="t" style="top:408px;font-size:6.7px;line-height:6.7px;color:#303030;left:447.7px;">normal</div>
<div style="left:434.5px;top:415.95px;width:10.2px;height:10.1px;background:#9dd09f;"></div>
<div class="t" style="top:418px;font-size:6.7px;line-height:6.7px;color:#303030;left:447.7px;">abnormal</div>
<div style="left:434.5px;top:426.3px;width:10.2px;height:10.1px;background:#2fa84a;"></div>
<div class="t" style="top:429px;font-size:6.7px;line-height:6.7px;color:#303030;left:447.7px;">complex</div>
<div style="left:434.5px;top:438.8px;width:10.2px;height:10.1px;background:#5285b8;"></div>
<div class="t" style="top:441px;font-size:6.7px;line-height:6.7px;color:#303030;left:447.7px;">good</div>
<div style="left:434.5px;top:449.1px;width:10.2px;height:10.1px;background:#e3dbeb;"></div>
<div class="t" style="top:452px;font-size:6.7px;line-height:6.7px;color:#303030;left:447.7px;">intermediate</div>
<div style="left:434.5px;top:459.4px;width:10.2px;height:10.1px;background:#a98cc2;"></div>
<div class="t" style="top:462px;font-size:6.7px;line-height:6.7px;color:#303030;left:447.7px;">poor</div>
<div style="left:434.5px;top:469.7px;width:10.2px;height:10.1px;background:#5b1f78;"></div>
<div class="t" style="top:472px;font-size:6.7px;line-height:6.7px;color:#303030;left:447.7px;">very poor</div>
<div style="left:43.75px;top:514.6px;width:1.3px;height:125.45px;background:#222;"></div>
<div style="left:43.75px;top:638.75px;width:183.05px;height:1.3px;background:#222;"></div>
<div style="left:41.3px;top:638.9px;width:3.1px;height:1px;background:#222;"></div>
<div class="t" style="top:637px;font-size:6.3px;line-height:6.3px;color:#303030;left:35.3px;width:0;display:flex;justify-content:center;">0</div>
<div style="left:41.3px;top:608.56px;width:3.1px;height:1px;background:#222;"></div>
<div class="t" style="top:607px;font-size:6.3px;line-height:6.3px;color:#303030;left:35.3px;width:0;display:flex;justify-content:center;">2</div>
<div style="left:41.3px;top:578.22px;width:3.1px;height:1px;background:#222;"></div>
<div class="t" style="top:576px;font-size:6.3px;line-height:6.3px;color:#303030;left:35.3px;width:0;display:flex;justify-content:center;">4</div>
<div style="left:41.3px;top:547.88px;width:3.1px;height:1px;background:#222;"></div>
<div class="t" style="top:546px;font-size:6.3px;line-height:6.3px;color:#303030;left:35.3px;width:0;display:flex;justify-content:center;">6</div>
<div style="left:41.3px;top:517.54px;width:3.1px;height:1px;background:#222;"></div>
<div class="t" style="top:516px;font-size:6.3px;line-height:6.3px;color:#303030;left:35.3px;width:0;display:flex;justify-content:center;">8</div>
<div style="left:66.1px;top:639.4px;width:1.2px;height:3.6px;background:#222;"></div>
<div class="t" style="top:648px;font-size:6.7px;line-height:6.7px;color:#303030;left:66.7px;width:0;display:flex;justify-content:center;">CR</div>
<div style="left:111.8px;top:639.4px;width:1.2px;height:3.6px;background:#222;"></div>
<div class="t" style="top:648px;font-size:6.7px;line-height:6.7px;color:#303030;left:112.4px;width:0;display:flex;justify-content:center;">Marrow CR</div>
<div style="left:157.3px;top:639.4px;width:1.2px;height:3.6px;background:#222;"></div>
<div class="t" style="top:648px;font-size:6.7px;line-height:6.7px;color:#303030;left:157.9px;width:0;display:flex;justify-content:center;">SD</div>
<div style="left:202.9px;top:639.4px;width:1.2px;height:3.6px;background:#222;"></div>
<div class="t" style="top:648px;font-size:6.7px;line-height:6.7px;color:#303030;left:203.5px;width:0;display:flex;justify-content:center;">PD</div>
<div style="left:66.1px;top:593.89px;width:1.2px;height:12.14px;background:#222;"></div>
<div style="left:66.1px;top:624.23px;width:1.2px;height:0px;background:#222;"></div>
<div style="left:61.4px;top:593.29px;width:10.6px;height:1.2px;background:#222;"></div>
<div style="left:61.4px;top:623.63px;width:10.6px;height:1.2px;background:#222;"></div>
<div style="left:56.3px;top:606.03px;width:20.8px;height:18.2px;background:#4a5a6a;"></div>
<div style="left:56.3px;top:616.04px;width:20.8px;height:1.2px;background:#222;"></div>
<div style="left:111.8px;top:533.21px;width:1.2px;height:15.93px;background:#222;"></div>
<div style="left:111.8px;top:607.54px;width:1.2px;height:16.69px;background:#222;"></div>
<div style="left:107.1px;top:532.61px;width:10.6px;height:1.2px;background:#222;"></div>
<div style="left:107.1px;top:623.63px;width:10.6px;height:1.2px;background:#222;"></div>
<div style="left:102px;top:549.14px;width:20.8px;height:58.4px;background:#9aa3ad;"></div>
<div style="left:102px;top:593.29px;width:20.8px;height:1.2px;background:#222;"></div>
<div style="left:157.3px;top:533.21px;width:1.2px;height:30.34px;background:#222;"></div>
<div style="left:157.3px;top:607.54px;width:1.2px;height:16.69px;background:#222;"></div>
<div style="left:152.6px;top:532.61px;width:10.6px;height:1.2px;background:#222;"></div>
<div style="left:152.6px;top:623.63px;width:10.6px;height:1.2px;background:#222;"></div>
<div style="left:147.5px;top:563.55px;width:20.8px;height:43.99px;background:#a9b1ba;"></div>
<div style="left:147.5px;top:593.29px;width:20.8px;height:1.2px;background:#222;"></div>
<div style="left:193.5px;top:608.46px;width:20.5px;height:1.2px;background:#222;"></div>
<div style="left:55.2px;top:621.83px;width:4.8px;height:4.8px;border-radius:50%;background:#111"></div>
<div style="left:64.3px;top:621.83px;width:4.8px;height:4.8px;border-radius:50%;background:#111"></div>
<div style="left:73.2px;top:621.83px;width:4.8px;height:4.8px;border-radius:50%;background:#111"></div>
<div style="left:59.4px;top:606.66px;width:4.8px;height:4.8px;border-radius:50%;background:#111"></div>
<div style="left:69.2px;top:606.66px;width:4.8px;height:4.8px;border-radius:50%;background:#111"></div>
<div style="left:64.3px;top:591.49px;width:4.8px;height:4.8px;border-radius:50%;background:#111"></div>
<div style="left:110px;top:621.83px;width:4.8px;height:4.8px;border-radius:50%;background:#111"></div>
<div style="left:105.2px;top:591.49px;width:4.8px;height:4.8px;border-radius:50%;background:#111"></div>
<div style="left:114.8px;top:591.49px;width:4.8px;height:4.8px;border-radius:50%;background:#111"></div>
<div style="left:110px;top:561.15px;width:4.8px;height:4.8px;border-radius:50%;background:#111"></div>
<div style="left:110px;top:530.81px;width:4.8px;height:4.8px;border-radius:50%;background:#111"></div>
<div style="left:155.5px;top:621.83px;width:4.8px;height:4.8px;border-radius:50%;background:#111"></div>
<div style="left:146.6px;top:591.49px;width:4.8px;height:4.8px;border-radius:50%;background:#111"></div>
<div style="left:155.5px;top:591.49px;width:4.8px;height:4.8px;border-radius:50%;background:#111"></div>
<div style="left:164.6px;top:591.49px;width:4.8px;height:4.8px;border-radius:50%;background:#111"></div>
<div style="left:155.5px;top:530.81px;width:4.8px;height:4.8px;border-radius:50%;background:#111"></div>
<div style="left:201.1px;top:606.66px;width:4.8px;height:4.8px;border-radius:50%;background:#111"></div>
<div class="t" style="left:135.5px;top:661.9px;width:0;height:0;"><div style="position:absolute;left:0;top:0;transform:translate(-50%,-50%) scaleX(0.715);white-space:nowrap;font-size:8.7px;line-height:8.7px;-webkit-text-stroke:0.4px #2a2a2a;color:#2a2a2a">Best overall response</div></div>
<div class="t" style="left:25.4px;top:576.2px;width:0;height:0;"><div style="position:absolute;left:0;top:0;transform:translate(-50%,-50%) rotate(-90deg) scaleX(0.727);white-space:nowrap;font-size:8.6px;line-height:8.6px;-webkit-text-stroke:0.3px #2a2a2a;color:#2a2a2a"># of co-mutated genes</div></div>
<svg style="position:absolute;left:0;top:0" width="520" height="675" viewBox="0 0 520 675"><path d="M313.30,513.90 A57.50,57.50 0 0 1 365.60,595.29 L336.77,582.12 A25.80,25.80 0 0 0 313.30,545.60 Z" fill="#f9b91f" stroke="#222" stroke-width="0.8"/><path d="M365.60,595.29 A57.50,57.50 0 0 1 344.39,619.77 L327.25,593.10 A25.80,25.80 0 0 0 336.77,582.12 Z" fill="#b56e2c" stroke="#222" stroke-width="0.8"/><path d="M344.39,619.77 A57.50,57.50 0 1 1 297.10,516.23 L306.03,546.65 A25.80,25.80 0 1 0 327.25,593.10 Z" fill="#e3197e" stroke="#222" stroke-width="0.8"/><path d="M297.10,516.23 A57.50,57.50 0 0 1 313.30,513.90 L313.30,545.60 A25.80,25.80 0 0 0 306.03,546.65 Z" fill="#c0c2c8" stroke="#222" stroke-width="0.8"/></svg>
<div class="t" style="top:543px;font-size:6.6px;line-height:6.6px;color:rgba(40,10,30,0.8);left:345px;width:0;display:flex;justify-content:center;">7</div>
<div class="t" style="top:595px;font-size:6.6px;line-height:6.6px;color:rgba(40,10,30,0.8);left:343.8px;width:0;display:flex;justify-content:center;">2</div>
<div class="t" style="top:585px;font-size:6.6px;line-height:6.6px;color:rgba(60,0,40,0.75);left:276.5px;width:0;display:flex;justify-content:center;">12</div>
<div class="t" style="top:526px;font-size:6.6px;line-height:6.6px;color:rgba(40,10,30,0.8);left:308.2px;width:0;display:flex;justify-content:center;">1</div>
<div class="t" style="top:569px;font-size:7.1px;line-height:7.1px;color:#333;left:313.2px;width:0;display:flex;justify-content:center;">n = 22</div>
<div style="left:380.2px;top:551px;width:12.1px;height:6.3px;background:#f9b91f;"></div>
<div class="t" style="top:552px;font-size:6.9px;line-height:6.9px;color:#333;left:395.8px;">R132C</div>
<div style="left:380.2px;top:562.55px;width:12.1px;height:6.3px;background:#b56e2c;"></div>
<div class="t" style="top:563px;font-size:6.9px;line-height:6.9px;color:#333;left:395.8px;">R132G</div>
<div style="left:380.2px;top:574.1px;width:12.1px;height:6.3px;background:#e3197e;"></div>
<div class="t" style="top:575px;font-size:6.9px;line-height:6.9px;color:#333;left:395.8px;">R132H</div>
<div style="left:380.2px;top:585.65px;width:12.1px;height:6.3px;background:#c0c2c8;"></div>
<div class="t" style="top:586px;font-size:6.9px;line-height:6.9px;color:#333;left:395.8px;">Unknown</div>
<div id="frame"></div>
</div></body></html>
